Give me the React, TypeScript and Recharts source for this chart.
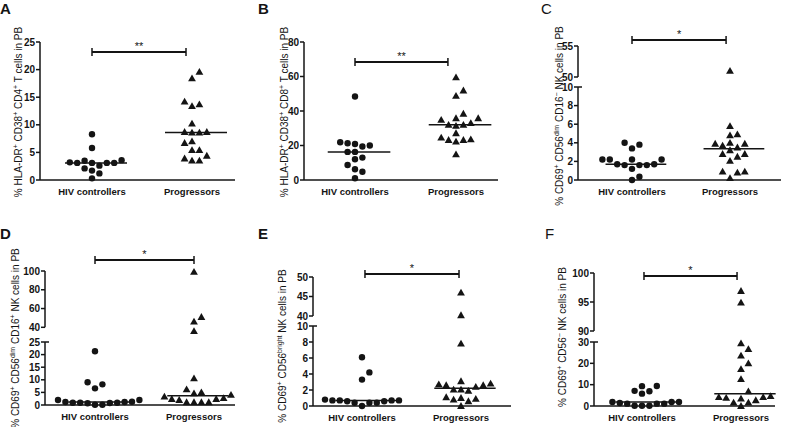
import React from "react";
import { ScatterChart, Scatter, XAxis, YAxis, ReferenceLine } from "recharts";

const categories = ["HIV controllers", "Progressors"];

// values (% of cells)
const aHiv = [8.3, 5.8, 3.5, 3.1, 3.1, 2.6, 3.6, 3.1, 3.1, 3.2, 1.7, 2.1, 1.2, 0.3];
const aProg = [19.6, 18.4, 13.7, 13.4, 14.2, 10.2, 8.7, 8.6, 8.6, 8.7, 7.0, 6.7, 5.4, 5.4, 4.4, 3.9, 3.5, 3.5];

const bHiv = [48.4, 21.3, 20.0, 19.4, 20.9, 21.9, 16.3, 16.3, 12.0, 13.0, 8.7, 6.2, 4.8, 1.0];
const bProg = [59.5, 51.9, 48.8, 35.8, 34.9, 38.4, 32.0, 31.4, 32.0, 33.0, 35.8, 27.1, 23.6, 23.2, 22.3, 23.2, 24.6, 14.9];

const cHiv = [3.8, 3.4, 4.0, 2.2, 2.2, 2.2, 2.2, 1.7, 1.6, 1.6, 1.2, 1.6, 1.7, 0.35, 0.0];
const cProg = [51.0, 5.8, 4.9, 4.8, 3.9, 3.7, 3.5, 3.9, 4.0, 2.8, 3.2, 2.8, 2.5, 2.05, 0.9, 0.8, 0.9, 0.2];

const dHiv = [21.3, 8.2, 6.6, 9.0, 2.0, 2.0, 1.3, 0.9, 0.7, 0.9, 0.8, 0.9, 1.2, 1.2, 0.1, 0.1];
const dProg = [99, 51, 46, 36, 10.6, 6.2, 5.0, 4.6, 4.0, 2.4, 2.0, 1.1, 3.3, 1.1, 1.1, 2.4, 2.7, 1.1];

const eHiv = [6.1, 4.2, 3.3, 0.7, 0.6, 0.8, 0.7, 0.7, 0.7, 0.4, 0.6, 0.4, 0.4, 0.0];
const eProg = [46, 40.2, 7.8, 2.8, 2.6, 2.05, 2.6, 2.7, 3.1, 2.05, 1.9, 1.0, 0.8, 1.1, 0.6, 0.9, 0.0, 2.4];

const fHiv = [9.3, 9.4, 6.9, 5.8, 7.1, 1.9, 1.1, 1.1, 1.9, 1.4, 1.1, 1.9, 0.1, 0.1, 0.1];
const fProg = [96.9, 94.9, 29.4, 26.7, 23.6, 20.0, 17.3, 12.6, 6.9, 3.5, 4.2, 4.2, 4.6, 1.6, 1.6, 2.7, 0.0, 3.8];

const ink = "#141414";
const font = "'Liberation Sans', Arial, sans-serif";
const YW = 34;

// domain = scale range of the segment, ticks = the drawn part of the axis
type Seg = { domain: [number, number]; ticks: number[]; top: number; bottom: number };
type Part = [string, boolean];
type Panel = {
  letter: string;
  letterX: number;
  letterY: number;
  letterBold: boolean;
  hiv: number[];
  prog: number[];
  axisX: number;
  right: number;
  centers: [number, number];
  segs: Seg[];
  bracketY: number;
  bracketX: [number, number];
  stars: string;
  label: Part[];
  labelX: number;
  labelY: number;
};

const tcell = (cd: string): Part[] => [
  ["% HLA-DR", false], ["+", true], [" CD38", false], ["+", true], [` ${cd}`, false], ["+", true], [" T cells in PB", false],
];

const panels: Panel[] = [
  {
    letter: "A", letterX: 0, letterY: 14, letterBold: true, hiv: aHiv, prog: aProg,
    axisX: 40, right: 235, centers: [92, 192],
    segs: [{ domain: [0, 25], ticks: [0, 5, 10, 15, 20, 25], top: 42, bottom: 180 }],
    bracketY: 52, bracketX: [1, 1.94], stars: "**", label: tcell("CD4"), labelX: 21.5, labelY: 112,
  },
  {
    letter: "B", letterX: 258, letterY: 14, letterBold: true, hiv: bHiv, prog: bProg,
    axisX: 304, right: 498, centers: [355, 456],
    segs: [{ domain: [0, 80], ticks: [0, 20, 40, 60, 80], top: 42, bottom: 180 }],
    bracketY: 62, bracketX: [1, 1.92], stars: "**", label: tcell("CD8"), labelX: 287.5, labelY: 112,
  },
  {
    letter: "C", letterX: 541, letterY: 14, letterBold: false, hiv: cHiv, prog: cProg,
    axisX: 578, right: 781, centers: [632, 730],
    segs: [
      { domain: [50, 55], ticks: [50, 55], top: 46, bottom: 77 },
      { domain: [0, 10], ticks: [0, 2, 4, 6, 8, 10], top: 87, bottom: 180 },
    ],
    bracketY: 40, bracketX: [1, 1.96], stars: "*",
    label: [["% CD69", false], ["+", true], [" CD56", false], ["dim", true], [" CD16", false], ["\u2212", true], [" NK cells in PB", false]],
    labelX: 563, labelY: 116,
  },
  {
    letter: "D", letterX: 0, letterY: 239, letterBold: true, hiv: dHiv, prog: dProg,
    axisX: 45, right: 235, centers: [95, 194],
    segs: [
      { domain: [35, 100], ticks: [40, 60, 80, 100], top: 271, bottom: 332 },
      { domain: [0, 25], ticks: [0, 5, 10, 15, 20, 25], top: 342, bottom: 405 },
    ],
    bracketY: 260, bracketX: [1, 2], stars: "*",
    label: [["% CD69", false], ["+", true], [" CD56", false], ["dim", true], [" CD16", false], ["+", true], [" NK cells in PB", false]],
    labelX: 18.5, labelY: 338,
  },
  {
    letter: "E", letterX: 258, letterY: 239, letterBold: true, hiv: eHiv, prog: eProg,
    axisX: 313, right: 511, centers: [362, 461],
    segs: [
      { domain: [40, 50], ticks: [40, 45, 50], top: 277, bottom: 316 },
      { domain: [0, 10], ticks: [0, 2, 4, 6, 8, 10], top: 326, bottom: 406 },
    ],
    bracketY: 274, bracketX: [1.03, 1.98], stars: "*",
    label: [["% CD69", false], ["+", true], [" CD56", false], ["bright", true], [" NK cells in PB", false]],
    labelX: 285.5, labelY: 346,
  },
  {
    letter: "F", letterX: 545, letterY: 239, letterBold: false, hiv: fHiv, prog: fProg,
    axisX: 594, right: 775, centers: [642, 741],
    segs: [
      { domain: [90, 100], ticks: [90, 95, 100], top: 273, bottom: 331 },
      { domain: [0, 30], ticks: [0, 10, 20, 30], top: 342, bottom: 406 },
    ],
    bracketY: 276, bracketX: [1.02, 1.96], stars: "*",
    label: [["% CD69", false], ["+", true], [" CD56", false], ["\u2212", true], [" NK cells in PB", false]],
    labelX: 565.5, labelY: 337,
  },
];

function median(v: number[]) {
  const s = [...v].sort((a, b) => a - b);
  const n = s.length;
  return n % 2 ? s[(n - 1) / 2] : (s[n / 2 - 1] + s[n / 2]) / 2;
}

function segOf(segs: Seg[], v: number) {
  return segs.find((g) => v >= g.domain[0] && v <= g.domain[1]) ?? segs[segs.length - 1];
}

function toPx(segs: Seg[], v: number) {
  const g = segOf(segs, v);
  return g.bottom - ((v - g.domain[0]) / (g.domain[1] - g.domain[0])) * (g.bottom - g.top);
}

// simple beeswarm, like the column scatter layout in the figure
function swarm(values: number[], segs: Seg[], center: number, unitPx: number) {
  const d = 7.4;
  const placed: { x: number; y: number }[] = [];
  const out: { x: number; y: number }[] = [];
  const sorted = [...values].sort((a, b) => a - b);
  for (const v of sorted) {
    const y = toPx(segs, v);
    let x = 0;
    for (let s = 0; s < 40; s++) {
      const off = s === 0 ? 0 : (s % 2 ? 1 : -1) * Math.ceil(s / 2) * d;
      if (placed.every((p) => Math.hypot(p.x - off, p.y - y) >= d - 0.01)) {
        x = off;
        break;
      }
    }
    placed.push({ x, y });
    out.push({ x: center + x / unitPx, y: v });
  }
  return out;
}

const Dot = (props: any) => <circle cx={props.cx} cy={props.cy} r={3.2} fill={ink} />;
const Tri = (props: any) => {
  const { cx, cy } = props;
  const s = 3.9;
  return <path d={`M${cx},${cy - s} L${cx + s},${cy + s * 0.75} L${cx - s},${cy + s * 0.75} Z`} fill={ink} />;
};

function PanelChart({ p }: { p: Panel }) {
  const unit = p.centers[1] - p.centers[0];
  const xDomain: [number, number] = [1 - (p.centers[0] - p.axisX) / unit, 2 + (p.right - p.centers[1]) / unit];
  const hivPts = swarm(p.hiv, p.segs, 1, unit);
  const progPts = swarm(p.prog, p.segs, 2, unit);
  const meds = [median(p.hiv), median(p.prog)];
  const left = p.axisX - YW;
  const width = p.right - left + 4;

  return (
    <>
      {p.segs.map((seg, i) => {
        const isTop = i === 0;
        const isBottom = i === p.segs.length - 1;
        const padTop = isTop ? Math.max(10, Math.round(seg.top - p.bracketY + 20)) : 10;
        const padBottom = isBottom ? 28 : 10;
        const plotH = seg.bottom - seg.top;
        const top = seg.top - padTop;
        const height = padTop + plotH + padBottom;
        const [d0, d1] = seg.domain;
        const t0 = Math.min(...seg.ticks);
        const t1 = Math.max(...seg.ticks);
        const perPx = (d1 - d0) / plotH;
        const inSeg = (pt: { y: number }) => segOf(p.segs, pt.y) === seg;
        const bv = d0 + (seg.bottom - p.bracketY) * perPx;
        const cap = 4 * perPx;
        return (
          <div key={i} style={{ position: "absolute", left, top }}>
            <ScatterChart
              width={width}
              height={height}
              margin={{ top: padTop, right: 4, bottom: isBottom ? padBottom - 22 : padBottom, left: 0 }}
            >
              <XAxis
                type="number"
                dataKey="x"
                domain={xDomain}
                ticks={[1, 2]}
                tickFormatter={(v: number) => categories[v - 1]}
                hide={!isBottom}
                height={22}
                tickLine={false}
                axisLine={{ stroke: ink, strokeWidth: 1.5 }}
                tick={{ fontSize: 9.5, fontWeight: 700, fill: ink, fontFamily: font }}
              />
              <YAxis
                type="number"
                dataKey="y"
                domain={seg.domain}
                ticks={seg.ticks}
                interval={0}
                width={YW}
                tickSize={4}
                tickMargin={1}
                axisLine={false}
                tickLine={{ stroke: ink, strokeWidth: 1.5 }}
                tick={{ fontSize: 10, fontWeight: 700, fill: ink, fontFamily: font }}
              />
              <ReferenceLine
                segment={[{ x: xDomain[0], y: t0 }, { x: xDomain[0], y: t1 }]}
                stroke={ink}
                strokeWidth={1.5}
                ifOverflow="visible"
              />
              <Scatter data={hivPts.filter(inSeg)} shape={Dot} isAnimationActive={false} />
              <Scatter data={progPts.filter(inSeg)} shape={Tri} isAnimationActive={false} />
              {meds.map((m, k) =>
                segOf(p.segs, m) === seg ? (
                  <ReferenceLine
                    key={`m${k}`}
                    segment={[{ x: k + 1 - 0.27, y: m }, { x: k + 1 + 0.35, y: m }]}
                    stroke={ink}
                    strokeWidth={1.5}
                    ifOverflow="visible"
                  />
                ) : null
              )}
              {!isTop && (
                <ReferenceLine
                  segment={[{ x: xDomain[0], y: t1 }, { x: xDomain[0] + 4 / unit, y: t1 }]}
                  stroke={ink}
                  strokeWidth={1.5}
                  ifOverflow="visible"
                />
              )}
              {isTop && (
                <ReferenceLine
                  segment={[{ x: p.bracketX[0], y: bv }, { x: p.bracketX[1], y: bv }]}
                  stroke={ink}
                  strokeWidth={2}
                  ifOverflow="visible"
                  label={{ value: p.stars, position: "top", fontSize: 11, fill: ink, fontFamily: font, offset: 2 }}
                />
              )}
              {isTop &&
                p.bracketX.map((bx, k) => (
                  <ReferenceLine
                    key={`c${k}`}
                    segment={[{ x: bx, y: bv - cap }, { x: bx, y: bv + cap }]}
                    stroke={ink}
                    strokeWidth={1.5}
                    ifOverflow="visible"
                  />
                ))}
            </ScatterChart>
          </div>
        );
      })}
    </>
  );
}

function Titles() {
  return (
    <svg width={792} height={427} style={{ position: "absolute", left: 0, top: 0, pointerEvents: "none" }}>
      {panels.map((p) => (
        <g key={p.letter}>
          <text x={p.letterX} y={p.letterY} fontSize={15} fontWeight={p.letterBold ? 700 : 400} fill={ink} fontFamily={font}>
            {p.letter}
          </text>
          <text
            transform={`translate(${p.labelX},${p.labelY}) rotate(-90)`}
            textAnchor="middle"
            fontSize={10}
            fill={ink}
            fontFamily={font}
          >
            {p.label.map(([t, sup], k) => {
              const prevSup = k > 0 && p.label[k - 1][1];
              return (
                <tspan key={k} fontSize={sup ? 7 : 10} dy={sup ? -3.8 : prevSup ? 3.8 : 0}>
                  {t}
                </tspan>
              );
            })}
          </text>
        </g>
      ))}
    </svg>
  );
}

export default function App() {
  return (
    <div style={{ position: "absolute", left: 0, top: 0, width: 792, height: 427, background: "#fff", overflow: "hidden" }}>
      {panels.map((p) => (
        <PanelChart key={p.letter} p={p} />
      ))}
      <Titles />
    </div>
  );
}
